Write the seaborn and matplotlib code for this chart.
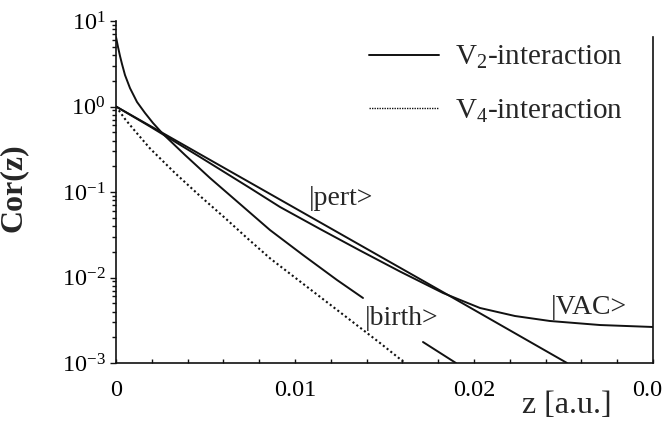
import numpy as np
import pandas as pd
import matplotlib
matplotlib.use("Agg")
import matplotlib.pyplot as plt
import matplotlib.ticker as mticker
from matplotlib.lines import Line2D
import seaborn as sns

# ---------------- data ----------------
# |birth> curve, V2-interaction (solid), drawn in two pieces around its label
birth_z_a = [0.0, 0.000112, 0.000223, 0.000335, 0.000503, 0.000782, 0.001173,
             0.00162, 0.002067, 0.002626, 0.003855, 0.005251, 0.006927,
             0.008603, 0.010447, 0.012346, 0.013799]
birth_c_a = [6.5, 4.97, 3.90, 3.14, 2.33, 1.64, 1.13,
             0.84, 0.641, 0.477, 0.271, 0.1458, 0.0724,
             0.0359, 0.01833, 0.00935, 0.00576]
birth_z_b = [0.01715, 0.01899]
birth_c_b = [0.00176, 0.001]

# |pert> curve, V2-interaction (solid)
pert_z = [0.0, 0.0019, 0.004693, 0.009162, 0.013631, 0.018268, 0.025196]
pert_c = [1.0, 0.5947, 0.2767, 0.0815, 0.02399, 0.006748, 0.001]

# |VAC> curve, V2-interaction (solid)
vac_z = [0.0, 0.0019, 0.004693, 0.007486, 0.009162, 0.011397, 0.013631,
         0.015866, 0.018268, 0.020335, 0.022291, 0.024246, 0.027039, 0.03]
vac_c = [1.0, 0.5835, 0.2566, 0.1113, 0.0668, 0.03694, 0.02069,
         0.01175, 0.00659, 0.0044, 0.003545, 0.003099, 0.002781, 0.002637]

# V4-interaction (dotted)
v4_z = [0.0, 0.000503, 0.001061, 0.0019, 0.003296, 0.004693, 0.006089,
        0.007318, 0.008603, 0.010279, 0.012346, 0.014749, 0.016145]
v4_c = [1.0, 0.714, 0.517, 0.323, 0.1667, 0.0898, 0.0497,
        0.029, 0.01677, 0.0090, 0.00418, 0.001714, 0.001]

x_ticks = [0.0, 0.01, 0.02, 0.03]
x_tick_labels = ["0", "0.01", "0.02", "0.03"]
legend_labels = ["V$_2$-interaction", "V$_4$-interaction"]
curve_labels = ["|pert>", "|birth>", "|VAC>"]

# ---------------- style ----------------
sns.set_theme(style="ticks")
plt.rcParams["font.family"] = ["Liberation Serif", "DejaVu Serif"]
plt.rcParams["mathtext.fontset"] = "custom"
plt.rcParams["mathtext.rm"] = "Liberation Serif"
plt.rcParams["mathtext.it"] = "Liberation Serif:italic"
plt.rcParams["mathtext.bf"] = "Liberation Serif:bold"
plt.rcParams["axes.unicode_minus"] = True

fig = plt.figure(figsize=(6.62, 4.29), dpi=100)
ax = fig.add_axes([116 / 662, 1 - 363 / 429, 537 / 662, 342 / 429])

lw = 1.4
col = "#111111"
sns.lineplot(x=birth_z_a, y=birth_c_a, ax=ax, color=col, lw=lw,
             estimator=None, sort=False)
sns.lineplot(x=birth_z_b, y=birth_c_b, ax=ax, color=col, lw=lw,
             estimator=None, sort=False)
sns.lineplot(x=pert_z, y=pert_c, ax=ax, color=col, lw=lw,
             estimator=None, sort=False)
sns.lineplot(x=vac_z, y=vac_c, ax=ax, color=col, lw=lw,
             estimator=None, sort=False)
sns.lineplot(x=v4_z, y=v4_c, ax=ax, color=col, lw=1.5,
             estimator=None, sort=False, linestyle=(0, (1, 1.3)))

ax.set_yscale("log")
ax.set_xlim(0, 0.03)
ax.set_ylim(1e-3, 1e1)

# ticks
ax.xaxis.set_major_locator(mticker.FixedLocator(x_ticks))
ax.xaxis.set_major_formatter(mticker.FixedFormatter(x_tick_labels))
ax.xaxis.set_minor_locator(mticker.MultipleLocator(0.002))
ax.yaxis.set_major_locator(mticker.LogLocator(base=10, numticks=10))
ax.yaxis.set_major_formatter(mticker.LogFormatterMathtext())
ax.yaxis.set_minor_locator(mticker.LogLocator(base=10, subs=np.arange(2, 10), numticks=10))
ax.yaxis.set_minor_formatter(mticker.NullFormatter())

ax.tick_params(axis="x", which="major", direction="in", length=3.2, width=1.0,
               labelsize=17.5, pad=12, colors=col)
ax.tick_params(axis="x", which="minor", direction="in", length=3.0, width=1.0,
               colors=col)
ax.tick_params(axis="y", which="major", direction="out", length=4.5, width=1.0,
               labelsize=17.5, pad=3, colors=col)
ax.tick_params(axis="y", which="minor", direction="out", length=2.6, width=1.0,
               colors=col)
for lab in ax.get_xticklabels() + ax.get_yticklabels():
    lab.set_color("#000000")

for side in ["left", "bottom", "right"]:
    ax.spines[side].set_linewidth(1.2)
    ax.spines[side].set_color(col)
ax.spines["top"].set_visible(False)
ax.spines["right"].set_bounds(1e-3, 6.5)

ax.set_xlabel("z [a.u.]", fontsize=23)
ax.set_ylabel("Cor(z)", fontsize=23, fontweight="bold")
ax.xaxis.set_label_coords((567 - 116) / 537, (363 - 391) / 342)
ax.yaxis.set_label_coords((28 - 116) / 537, (363 - 188) / 342)

# curve labels
ax.text(0.01257, 0.0705, curve_labels[0], fontsize=20, ha="center", va="baseline")
ax.text(0.01598, 0.00278, curve_labels[1], fontsize=20, ha="center", va="baseline")
ax.text(0.0264, 0.00374, curve_labels[2], fontsize=20, ha="center", va="baseline")

# legend
handles = [Line2D([], [], color=col, lw=lw),
           Line2D([], [], color=col, lw=1.0, linestyle=(0, (1, 0.8)))]
ax.legend(handles, legend_labels, loc="upper left",
          bbox_to_anchor=((369 - 116) / 537, (363 - 44) / 342),
          frameon=False, fontsize=21, handlelength=2.4, handletextpad=0.55,
          borderpad=0, borderaxespad=0, labelspacing=0.9)

fig.savefig("out.png", dpi=100)
